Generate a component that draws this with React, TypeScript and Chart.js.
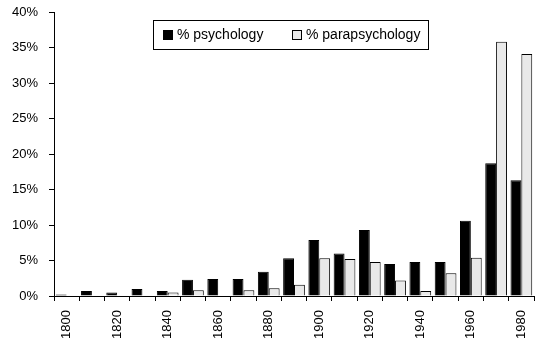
import React, { useEffect, useRef } from "react";
import { Chart, registerables } from "chart.js";

Chart.register(...registerables);

const categories = ["1800","1810","1820","1830","1840","1850","1860","1870","1880","1890","1900","1910","1920","1930","1940","1950","1960","1970","1980"];
const psychology = [0.2, 0.7, 0.5, 1.0, 0.7, 2.3, 2.4, 2.4, 3.4, 5.3, 7.9, 6.0, 9.3, 4.5, 4.8, 4.8, 10.6, 18.7, 16.3];
const parapsychology = [0, 0, 0, 0, 0.5, 0.8, 0, 0.8, 1.1, 1.6, 5.3, 5.2, 4.8, 2.2, 0.7, 3.2, 5.4, 35.8, 34.1];
const seriesLabels = ["% psychology", "% parapsychology"];
const yTicks = [0, 5, 10, 15, 20, 25, 30, 35, 40];

const FONT = "'Liberation Sans', Arial, sans-serif";

const legendPlugin = {
  id: "boxLegend",
  afterDraw(chart: any) {
    const ctx = chart.ctx;
    const x0 = 153, y0 = 20, w = 275, h = 29;
    ctx.save();
    ctx.fillStyle = "#ffffff";
    ctx.fillRect(x0, y0, w, h);
    ctx.strokeStyle = "#000";
    ctx.lineWidth = 1;
    ctx.strokeRect(x0 + 0.5, y0 + 0.5, w, h);
    ctx.font = `14px ${FONT}`;
    ctx.textBaseline = "middle";
    const cy = y0 + h / 2 + 0.5;
    const items = [
      { x: 163, tx: 177 },
      { x: 292, tx: 306 },
    ];
    chart.data.datasets.forEach((ds: any, i: number) => {
      const it = items[i];
      ctx.fillStyle = ds.backgroundColor;
      ctx.fillRect(it.x, cy - 5, 10, 10);
      ctx.strokeStyle = "#000";
      ctx.strokeRect(it.x + 0.5, cy - 5 + 0.5, 9, 9);
      ctx.fillStyle = "#000";
      ctx.fillText(ds.label, it.tx, cy);
    });
    ctx.restore();
  },
};

export default function App() {
  const ref = useRef<HTMLCanvasElement | null>(null);
  useEffect(() => {
    if (!ref.current) return;
    const chart = new Chart(ref.current, {
      type: "bar",
      data: {
        labels: categories,
        datasets: [
          {
            label: seriesLabels[0],
            data: psychology,
            backgroundColor: "#000000",
            borderColor: "#000000",
            borderWidth: 1,
            barPercentage: 1,
            categoryPercentage: 0.86,
          },
          {
            label: seriesLabels[1],
            data: parapsychology,
            backgroundColor: "#e9e9e9",
            borderColor: "#000000",
            borderWidth: 1,
            barPercentage: 1,
            categoryPercentage: 0.86,
          },
        ],
      },
      options: {
        responsive: false,
        animation: false,
        layout: { padding: { left: 0, right: 8, top: 12, bottom: 0 } },
        plugins: {
          legend: { display: false },
          tooltip: { enabled: false },
        },
        scales: {
          x: {
            grid: { display: true, drawOnChartArea: false, drawTicks: true, tickLength: 5, color: "#000", offset: true },
            border: { display: true, color: "#000", width: 1 },
            ticks: {
              autoSkip: false,
              minRotation: 90,
              maxRotation: 90,
              padding: 9,
              color: "#000",
              font: { family: FONT, size: 13 },
              callback: (_v: any, i: number) => (i % 2 === 0 ? categories[i] : ""),
            },
            afterFit: (s: any) => { s.height = 54; s.paddingLeft = 0; s.paddingRight = 0; },
          },
          y: {
            min: 0,
            max: 40,
            grid: { display: true, drawOnChartArea: false, drawTicks: true, tickLength: 5, color: "#000" },
            border: { display: true, color: "#000", width: 1 },
            afterBuildTicks: (s: any) => { s.ticks = yTicks.map((v) => ({ value: v })); },
            ticks: {
              padding: 11,
              color: "#000",
              font: { family: FONT, size: 13 },
              callback: (v: any) => `${v}%`,
            },
            afterFit: (s: any) => { s.width = 54; s.paddingTop = 0; s.paddingBottom = 0; },
          },
        },
      },
      plugins: [legendPlugin],
    });
    return () => chart.destroy();
  }, []);
  return (
    <div style={{ position: "fixed", left: 0, top: 0, width: 542, height: 350, background: "#fff" }}>
      <canvas ref={ref} width={542} height={350} style={{ display: "block" }} />
    </div>
  );
}
